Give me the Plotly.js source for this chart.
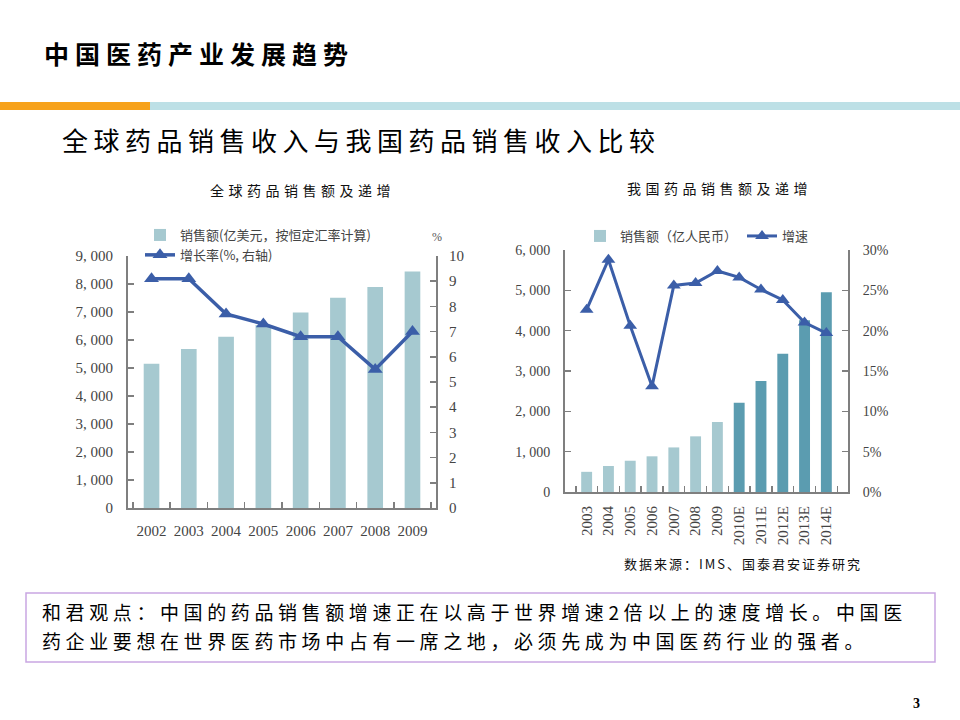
<!DOCTYPE html>
<html>
<head>
<meta charset="utf-8">
<script src="https://cdn.plot.ly/plotly-3.0.1.min.js"></script>
<style>
  html, body { margin: 0; padding: 0; background: #fff; }
  #plot { width: 960px; height: 720px; }
</style>
</head>
<body>
<div id="plot"></div>
<script>
// global sales (left chart)
const worldYears = ["2002", "2003", "2004", "2005", "2006", "2007", "2008", "2009"];
const worldSales = [5150, 5680, 6120, 6540, 6980, 7510, 7890, 8450];
const worldGrowth = [9.1, 9.1, 7.7, 7.3, 6.8, 6.8, 5.5, 7.0];

// china sales (right chart)
const cnYears = ["2003", "2004", "2005", "2006", "2007", "2008", "2009", "2010E", "2011E", "2012E", "2013E", "2014E"];
const cnSales = [500, 645, 775, 885, 1105, 1380, 1735, 2215, 2755, 3425, 4260, 4950];
const cnGrowth = [0.226, 0.288, 0.206, 0.131, 0.256, 0.259, 0.274, 0.266, 0.251, 0.238, 0.210, 0.197];

// tick labels
const leftVals = [0, 1000, 2000, 3000, 4000, 5000, 6000, 7000, 8000, 9000];
const leftText = ["0", "1, 000", "2, 000", "3, 000", "4, 000", "5, 000", "6, 000", "7, 000", "8, 000", "9, 000"];
const rightVals = [0, 1000, 2000, 3000, 4000, 5000, 6000];
const rightText = ["0", "1, 000", "2, 000", "3, 000", "4, 000", "5, 000", "6, 000"];

const light = "#a6c9d0";
const dark = "#5b9cb0";
const blue = "#3b5ea8";
const axisGrey = "#7f7f7f";
const serif = "Liberation Serif, DejaVu Serif, serif";
const cjk = "Noto Sans CJK SC, sans-serif";

// px helpers for page furniture
const px = x => x / 960;
const py = y => 1 - y / 720;

const trace1 = {
  x: worldYears, y: worldSales, type: "bar", name: "销售额(亿美元，按恒定汇率计算)",
  marker: {color: light}, width: 0.42, xaxis: "x", yaxis: "y", legend: "legend"
};
const trace2 = {
  x: worldYears, y: worldGrowth, type: "scatter", mode: "lines+markers", name: "增长率(%, 右轴)",
  line: {color: blue, width: 3.5}, marker: {symbol: "triangle-up", size: 13, color: blue},
  xaxis: "x", yaxis: "y2", legend: "legend"
};
const trace3 = {
  x: cnYears, y: cnSales, type: "bar", name: "销售额（亿人民币）",
  marker: {color: cnYears.map(y => y.endsWith("E") ? dark : light)}, width: 0.5,
  xaxis: "x2", yaxis: "y3", legend: "legend2"
};
const trace4 = {
  x: cnYears, y: cnGrowth, type: "scatter", mode: "lines+markers", name: "增速",
  line: {color: blue, width: 3}, marker: {symbol: "triangle-up", size: 12, color: blue},
  xaxis: "x2", yaxis: "y4", legend: "legend2"
};

const axisBase = {
  showgrid: false, zeroline: false, showline: true, linecolor: axisGrey, linewidth: 2,
  ticks: "inside", tickcolor: axisGrey, tickwidth: 1.5, ticklen: 6, fixedrange: true
};

const layout = {
  width: 960, height: 720,
  margin: {l: 0, r: 0, t: 0, b: 0},
  paper_bgcolor: "#fff", plot_bgcolor: "rgba(0,0,0,0)",
  showlegend: true,
  bargap: 0.5,
  xaxis: Object.assign({}, axisBase, {
    type: "category", domain: [px(128), px(436)], anchor: "y", tickson: "boundaries",
    tickangle: 0, tickfont: {family: serif, size: 15, color: "#444"}, ticklabelstandoff: 8
  }),
  yaxis: Object.assign({}, axisBase, {
    domain: [py(508), py(256)], anchor: "x", range: [0, 9000],
    tickvals: leftVals, ticktext: leftText, ticklabelstandoff: 10,
    tickfont: {family: serif, size: 15, color: "#444"}
  }),
  yaxis2: Object.assign({}, axisBase, {
    domain: [py(508), py(256)], anchor: "x", overlaying: "y", side: "right",
    range: [0, 10], dtick: 1, ticklabelstandoff: 8,
    tickfont: {family: serif, size: 15, color: "#444"}
  }),
  xaxis2: Object.assign({}, axisBase, {
    type: "category", domain: [px(565), px(848)], anchor: "y3", tickson: "boundaries", tickangle: -90,
    tickfont: {family: serif, size: 15, color: "#444"}, ticklabelstandoff: 6
  }),
  yaxis3: Object.assign({}, axisBase, {
    domain: [py(492), py(250)], anchor: "x2", range: [0, 6000],
    tickvals: rightVals, ticktext: rightText, ticklabelstandoff: 10,
    tickfont: {family: serif, size: 14, color: "#444"}
  }),
  yaxis4: Object.assign({}, axisBase, {
    domain: [py(492), py(250)], anchor: "x2", overlaying: "y3", side: "right",
    range: [0, 0.3], dtick: 0.05, tickformat: ".0%", ticklabelstandoff: 10,
    tickfont: {family: serif, size: 14, color: "#444"}
  }),
  legend: {
    x: px(140), y: py(220), xanchor: "left", yanchor: "top", orientation: "v",
    bgcolor: "rgba(0,0,0,0)", font: {family: cjk, size: 13, color: "#444"},
    tracegroupgap: 0, itemwidth: 30
  },
  legend2: {
    x: px(580), y: py(221), xanchor: "left", yanchor: "top", orientation: "h",
    bgcolor: "rgba(0,0,0,0)", font: {family: cjk, size: 13, color: "#444"},
    itemwidth: 30
  },
  shapes: [
    {type: "rect", xref: "paper", yref: "paper", x0: 0, x1: px(150), y0: py(110), y1: py(102),
     fillcolor: "#f7a21b", line: {width: 0}},
    {type: "rect", xref: "paper", yref: "paper", x0: px(150), x1: 1, y0: py(110), y1: py(102),
     fillcolor: "#bde0e6", line: {width: 0}},
    {type: "rect", xref: "paper", yref: "paper", x0: px(26), x1: px(935), y0: py(662), y1: py(593),
     line: {color: "#c9a6e2", width: 1.5}, fillcolor: "rgba(0,0,0,0)"}
  ],
  annotations: [
    {text: "<b>中国医药产业发展趋势</b>", x: px(42), y: py(53), xanchor: "left", yanchor: "middle",
     align: "left", font: {family: cjk, size: 25, color: "#000"}},
    {text: "全球药品销售收入与我国药品销售收入比较", x: px(60), y: py(140), xanchor: "left", yanchor: "middle",
     align: "left", font: {family: cjk, size: 26, color: "#000"}},
    {text: "全球药品销售额及递增", x: px(208), y: py(190), xanchor: "left", yanchor: "middle",
     align: "left", font: {family: cjk, size: 14, color: "#111"}},
    {text: "我国药品销售额及递增", x: px(625), y: py(188), xanchor: "left", yanchor: "middle",
     align: "left", font: {family: cjk, size: 14, color: "#111"}},
    {text: "%", x: px(437), y: py(237), xanchor: "center", yanchor: "middle",
     align: "center", font: {family: serif, size: 12, color: "#555"}},
    {text: "数据来源：IMS、国泰君安证券研究", x: px(622), y: py(563), xanchor: "left", yanchor: "middle",
     align: "left", font: {family: cjk, size: 13, color: "#111"}},
    {text: "和君观点：中国的药品销售额增速正在以高于世界增速2倍以上的速度增长。中国医", x: px(40), y: py(611),
     xanchor: "left", yanchor: "middle", align: "left", font: {family: cjk, size: 19, color: "#000"}},
    {text: "药企业要想在世界医药市场中占有一席之地，必须先成为中国医药行业的强者。", x: px(40), y: py(640),
     xanchor: "left", yanchor: "middle", align: "left", font: {family: cjk, size: 19, color: "#000"}},
    {text: "<b>3</b>", x: px(916), y: py(703), xanchor: "center", yanchor: "middle",
     align: "center", font: {family: serif, size: 14, color: "#000"}}
  ].map(a => Object.assign({xref: "paper", yref: "paper", showarrow: false}, a))
};

// letter spacing per annotation index (the slide uses spaced-out CJK)
const spacing = {0: 6, 1: 5.5, 2: 4.5, 3: 4.5, 5: 2, 6: 4.6, 7: 4.6};

Plotly.newPlot("plot", [trace1, trace2, trace3, trace4], layout, {staticPlot: true}).then(() => {
  document.querySelectorAll(".annotation").forEach(g => {
    const i = +g.getAttribute("data-index");
    if (spacing[i] !== undefined) {
      g.querySelectorAll("text").forEach(t => { t.style.letterSpacing = spacing[i] + "px"; });
    }
  });
});
</script>
</body>
</html>
